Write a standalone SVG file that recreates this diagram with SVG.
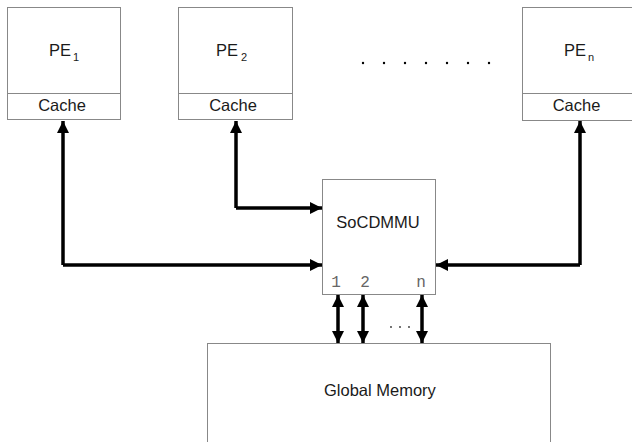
<svg xmlns="http://www.w3.org/2000/svg" width="632" height="442" viewBox="0 0 632 442">
<defs>
<style>
.box{fill:#fff;stroke:#888;stroke-width:1}
.t{font-family:"Liberation Sans",Arial,sans-serif;font-size:16.5px;fill:#1a1a1a}
.m{text-anchor:middle}
.sub{font-size:11px}
.mono{font-family:"Liberation Mono","Courier New",monospace;font-size:16px;fill:#666;text-anchor:middle}
.c{fill:none;stroke:#000;stroke-width:3.5}
</style>
<marker id="ah" viewBox="0 0 12 12" refX="12" refY="6" markerWidth="12" markerHeight="12" markerUnits="userSpaceOnUse" orient="auto-start-reverse">
<path d="M0,0 L12,6 L0,12 Z" fill="#000"/>
</marker>
</defs>
<rect width="632" height="442" fill="#fff"/>
<g id="pe1">
<rect class="box" x="7.5" y="7.5" width="113" height="112"/>
<line class="box" x1="7.5" y1="93.5" x2="120.5" y2="93.5"/>
<text class="t" x="49" y="56">PE<tspan class="sub" dx="2" dy="5">1</tspan></text>
<text class="t m" x="62" y="111" font-size="17">Cache</text>
</g>
<g id="pe2">
<rect class="box" x="178.5" y="7.5" width="114" height="112"/>
<line class="box" x1="178.5" y1="93.5" x2="292.5" y2="93.5"/>
<text class="t" x="216" y="56">PE<tspan class="sub" dx="3" dy="5">2</tspan></text>
<text class="t m" x="233" y="111" font-size="17">Cache</text>
</g>
<g id="dots" fill="#000">
<circle cx="363" cy="63" r="1.2"/><circle cx="384" cy="63" r="1.2"/><circle cx="405" cy="63" r="1.2"/><circle cx="426" cy="63" r="1.2"/><circle cx="447" cy="63" r="1.2"/><circle cx="468" cy="63" r="1.2"/><circle cx="489" cy="63" r="1.2"/>
</g>
<g id="pen">
<rect class="box" x="522.5" y="7.5" width="116" height="113"/>
<line class="box" x1="522.5" y1="93.5" x2="632" y2="93.5"/>
<text class="t" x="564" y="56">PE<tspan class="sub" font-size="10" dx="2" dy="5">n</tspan></text>
<text class="t m" x="576.5" y="111" font-size="17">Cache</text>
</g>
<g id="socdmmu">
<rect class="box" x="322.5" y="179.5" width="113" height="115"/>
<text class="t m" x="378" y="228">SoCDMMU</text>
<text class="mono" x="336" y="287">1</text>
<text class="mono" x="365" y="287">2</text>
<text class="mono" x="421" y="287">n</text>
</g>
<g id="global-memory">
<rect class="box" x="207.5" y="343.5" width="343" height="110"/>
<text class="t" x="324" y="396" font-size="14.5">Global Memory</text>
</g>
<g id="connectors">
<path class="c" d="M63,265 L63,121" marker-end="url(#ah)"/>
<path class="c" d="M63,265 L322,265" marker-end="url(#ah)"/>
<path class="c" d="M236,208 L236,121" marker-end="url(#ah)"/>
<path class="c" d="M236,208 L322,208" marker-end="url(#ah)"/>
<path class="c" d="M580,265 L580,121" marker-end="url(#ah)"/>
<path class="c" d="M580,265 L436,265" marker-end="url(#ah)"/>
<path class="c" d="M338,295 L338,343" marker-start="url(#ah)" marker-end="url(#ah)"/>
<path class="c" d="M363,295 L363,343" marker-start="url(#ah)" marker-end="url(#ah)"/>
<path class="c" d="M422,295 L422,343" marker-start="url(#ah)" marker-end="url(#ah)"/>
<g fill="#333"><circle cx="391" cy="327" r="0.9"/><circle cx="400" cy="327" r="0.9"/><circle cx="409" cy="327" r="0.9"/></g>
</g>
</svg>
